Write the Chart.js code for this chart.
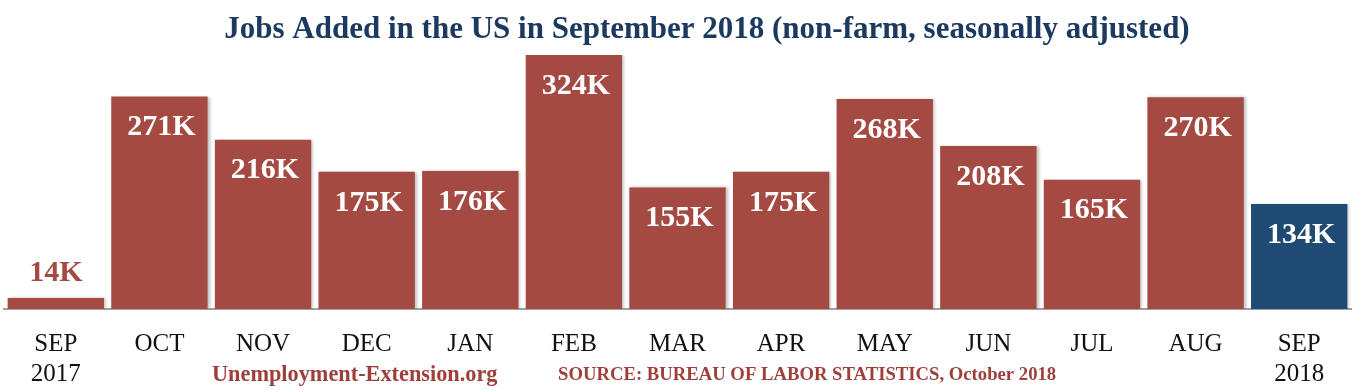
<!DOCTYPE html>
<html>
<head>
<meta charset="utf-8">
<script src="https://cdn.jsdelivr.net/npm/chart.js@4"></script>
<style>
  body { margin: 0; background: #fff; }
  #wrap { width: 1354px; height: 390px; position: relative; }
</style>
</head>
<body>
<div id="wrap"><canvas id="jobs"></canvas></div>
<script>
const months = [['SEP', '2017'], 'OCT', 'NOV', 'DEC', 'JAN', 'FEB', 'MAR', 'APR', 'MAY', 'JUN', 'JUL', 'AUG', ['SEP', '2018']];
const jobsAdded = [14, 271, 216, 175, 176, 324, 155, 175, 268, 208, 165, 270, 134];
const valueLabels = ['14K', '271K', '216K', '175K', '176K', '324K', '155K', '175K', '268K', '208K', '165K', '270K', '134K'];
const titleText = 'Jobs Added in the US in September 2018 (non-farm, seasonally adjusted)';
const sourceLeft = 'Unemployment-Extension.org';
const sourceRight = 'SOURCE: BUREAU OF LABOR STATISTICS, October 2018';

const red = '#a54a43';
const navy = '#1f4a73';
const serif = '"Liberation Serif", "Times New Roman", serif';

const barColors = jobsAdded.map((v, i) => i === jobsAdded.length - 1 ? navy : red);

// title, bar value labels, source line
const labelPlugin = {
    id: 'labels',
    beforeDatasetsDraw(chart) {
        const ctx = chart.ctx;
        ctx.save();
        ctx.shadowColor = 'rgba(0,0,0,0.25)';
        ctx.shadowBlur = 3;
        ctx.shadowOffsetX = 2;
    },
    afterDatasetsDraw(chart) {
        const ctx = chart.ctx;
        ctx.restore();
        const meta = chart.getDatasetMeta(0);
        ctx.save();
        ctx.font = 'bold 30px ' + serif;
        ctx.textAlign = 'center';
        ctx.textBaseline = 'middle';
        meta.data.forEach((bar, i) => {
            const h = bar.base - bar.y;
            if (h < 40) {
                ctx.fillStyle = red;
                ctx.fillText(valueLabels[i], bar.x, bar.y - 25);
            } else {
                ctx.fillStyle = '#fff';
                ctx.fillText(valueLabels[i], bar.x + 2, bar.y + 31);
            }
        });
        ctx.restore();
    },
    afterDraw(chart) {
        const ctx = chart.ctx;
        ctx.save();
        ctx.textBaseline = 'middle';
        ctx.textAlign = 'center';
        ctx.fillStyle = '#1c3a60';
        ctx.font = 'bold 31px ' + serif;
        ctx.fillText(titleText, 707, 30);

        ctx.fillStyle = '#9e3f3a';
        ctx.textAlign = 'left';
        ctx.font = 'bold 22.3px ' + serif;
        ctx.fillText(sourceLeft, 212, 375);
        ctx.font = 'bold 18.7px ' + serif;
        ctx.fillText(sourceRight, 558, 375);
        ctx.restore();
    }
};

const ctx = document.getElementById('jobs').getContext('2d');
new Chart(ctx, {
    type: 'bar',
    data: {
        labels: months,
        datasets: [{
            label: 'Jobs added',
            data: jobsAdded,
            backgroundColor: barColors,
            borderWidth: 0,
            barPercentage: 0.93,
            categoryPercentage: 1
        }]
    },
    options: {
        responsive: true,
        maintainAspectRatio: false,
        animation: false,
        layout: { padding: { left: 4, right: 3, top: 55, bottom: 0 } },
        plugins: {
            legend: { display: false },
            tooltip: { enabled: false },
            title: { display: false }
        },
        scales: {
            y: {
                display: false,
                min: 0,
                max: 324
            },
            x: {
                grid: { display: false, drawTicks: false },
                border: { display: true, color: '#a0a0a0', width: 2 },
                ticks: {
                    color: '#111',
                    font: { family: serif, size: 25, lineHeight: 1.2 },
                    padding: 20,
                    maxRotation: 0,
                    autoSkip: false
                },
                afterFit(scale) {
                    scale.height = 81;
                }
            }
        }
    },
    plugins: [labelPlugin]
});
</script>
</body>
</html>
